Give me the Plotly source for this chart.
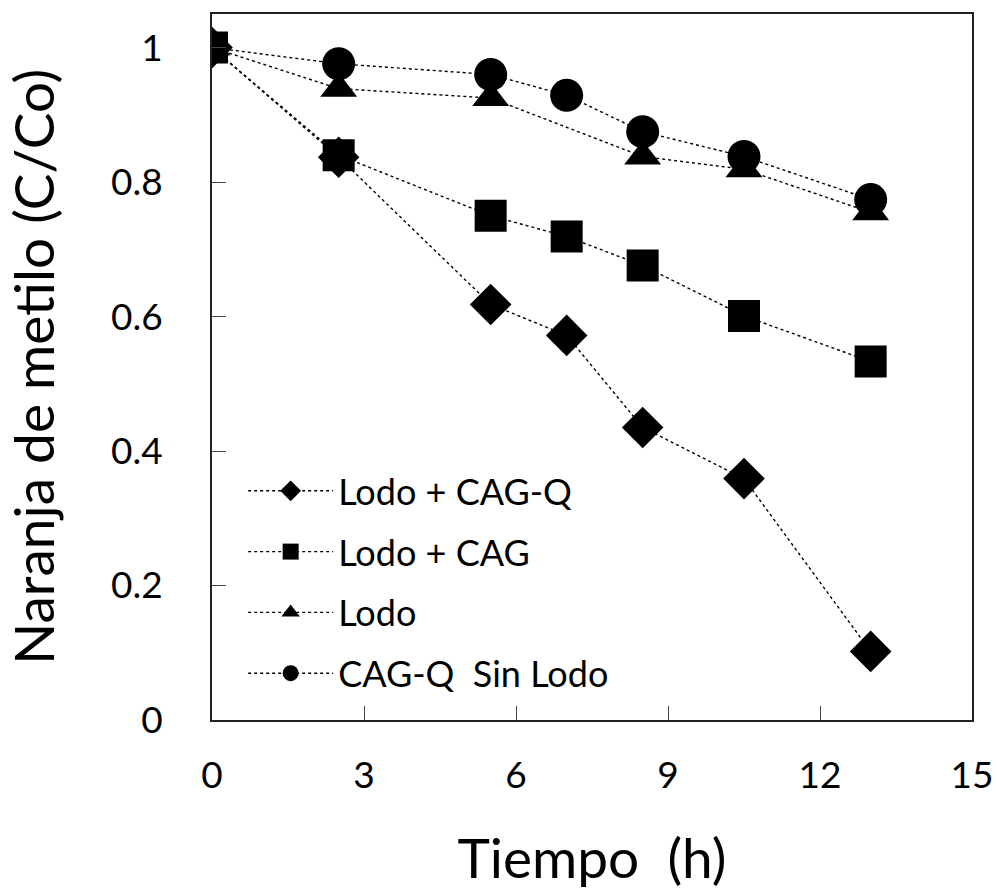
import plotly.graph_objects as go

# Sampling times (h)
tiempo = [0, 2.5, 5.5, 7, 8.5, 10.5, 13]

# Normalised methyl orange concentration C/Co per treatment
lodo_cagq = [1.0, 0.837, 0.618, 0.572, 0.435, 0.359, 0.102]
lodo_cag = [1.0, 0.840, 0.750, 0.719, 0.676, 0.601, 0.533]
lodo = [1.0, 0.939, 0.925, 0.838, 0.819, 0.755]
lodo_t = [0, 2.5, 5.5, 8.5, 10.5, 13]
cagq_sin_lodo = [1.0, 0.976, 0.960, 0.929, 0.875, 0.838, 0.774]

series = [
    ("Lodo + CAG-Q", tiempo, lodo_cagq, "diamond", 32),
    ("Lodo + CAG", tiempo, lodo_cag, "square", 32),
    ("Lodo", lodo_t, lodo, "triangle-up", 32),
    ("CAG-Q  Sin Lodo", tiempo, cagq_sin_lodo, "circle", 33),
]

x_ticks = [0, 3, 6, 9, 12, 15]
y_ticks = [0, 0.2, 0.4, 0.6, 0.8, 1]
y_labels = ["0", "0.2", "0.4", "0.6", "0.8", "1"]

FONT = "Lato, 'Open Sans', sans-serif"

fig = go.Figure()
for i, (name, xs, ys, sym, sz) in enumerate(series):
    fig.add_trace(go.Scatter(
        x=xs, y=ys, name=name, mode="lines+markers",
        legendgroup=f"g{i}",
        line=dict(color="black", width=1.4, dash="3px,3px"),
        marker=dict(symbol=sym, size=sz, color="black"),
    ))

# Vertical axis title placed as a rotated annotation left of the tick labels
fig.add_annotation(
    text="Naranja de metilo (C/Co)", textangle=-90,
    xref="paper", yref="paper", x=-0.236, y=0.5,
    xanchor="center", yanchor="middle", showarrow=False,
    font=dict(family=FONT, size=55, color="black"),
)

fig.update_layout(
    width=997, height=890,
    margin=dict(l=212, r=25, t=14, b=170),
    paper_bgcolor="white", plot_bgcolor="white",
    font=dict(family=FONT, color="black"),
    showlegend=True,
    legend=dict(
        x=0.041, y=0.367, xanchor="left", yanchor="top",
        bgcolor="rgba(0,0,0,0)",
        font=dict(family=FONT, size=36, color="black"),
        tracegroupgap=11,
        itemwidth=85,
    ),
    xaxis=dict(
        range=[0, 15], tickvals=x_ticks, automargin=False,
        ticks="inside", ticklen=14, tickwidth=1, tickcolor="#444",
        showline=True, linecolor="#222", linewidth=1.8, mirror=True,
        showgrid=False, zeroline=False,
        tickfont=dict(family=FONT, size=37),
        ticklabelstandoff=22,
        title=dict(text="Tiempo  (h)", font=dict(family=FONT, size=55), standoff=50),
    ),
    yaxis=dict(
        range=[0, 1.05], tickvals=y_ticks, ticktext=y_labels, automargin=False,
        ticks="inside", ticklen=14, tickwidth=1, tickcolor="#444",
        showline=True, linecolor="#222", linewidth=1.8, mirror=True,
        showgrid=False, zeroline=False,
        tickfont=dict(family=FONT, size=37),
        ticklabelstandoff=40,
    ),
)

fig.write_html("out.html")
